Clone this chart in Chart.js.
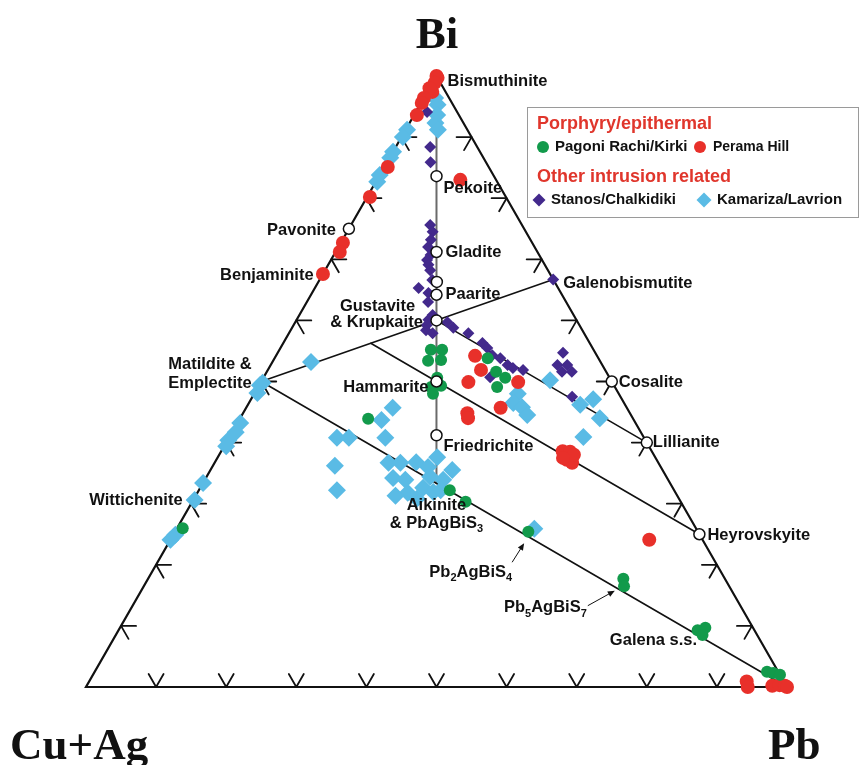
<!DOCTYPE html>
<html><head><meta charset="utf-8">
<script src="https://cdn.jsdelivr.net/npm/chart.js@4.4.1/dist/chart.umd.min.js"></script>
<style>html,body{margin:0;padding:0;background:#fff;overflow:hidden}canvas{display:block}</style>
</head><body>
<canvas id="c" width="861" height="765"></canvas>
<script>
// Compositions in atomic %: [Bi, Pb]; Cu+Ag = 100 - Bi - Pb
const pagoniRachi = [[55.2,21.6],[55.2,23.2],[53.4,22.1],[53.5,23.9],[50.6,24.8],[49.1,24.7],[49.3,26.0],[48.0,25.5],[53.8,30.4],[51.6,32.7],[50.6,34.5],[49.1,34.1],[43.9,18.3],[32.2,35.8],[30.3,39.0],[25.4,50.4],[17.7,67.8],[16.5,68.5],[9.3,82.6],[9.7,83.5],[8.5,83.7],[2.5,95.9],[2.3,96.9],[2.0,98.0],[26.0,0.8]];
const peramaHill = [[100,0],[99.7,0.3],[98.9,0.3],[97.4,0.7],[98.0,0],[96.4,0],[95.6,0.1],[93.6,0.4],[85.1,0.5],[80.2,0.4],[72.7,0.3],[71.2,0.6],[67.6,0],[83.0,11.9],[54.2,28.4],[51.9,30.4],[49.9,29.6],[49.9,36.7],[45.7,36.3],[44.8,32.0],[44.0,32.5],[38.6,48.7],[38.5,49.8],[37.2,50.0],[36.7,51.0],[38.0,50.6],[37.5,49.3],[24.1,68.3],[0.9,93.8],[0,94.4],[0.2,97.8],[0.3,98.8],[0.2,99.6],[0,100]];
const stanos = [[94.1,1.6],[88.4,4.9],[85.9,6.2],[75.6,11.3],[74.5,12.2],[73.2,12.6],[72.0,12.8],[70.7,13.8],[69.9,13.7],[69.1,14.3],[68.2,15.0],[66.6,16.1],[65.3,14.8],[64.5,16.6],[63.0,17.3],[60.9,19.0],[60.4,19.3],[60.1,18.8],[59.2,19.0],[58.4,19.3],[57.9,20.5],[59.7,21.7],[58.8,23.0],[57.9,25.6],[56.3,28.4],[55.5,29.5],[54.3,30.8],[53.8,32.2],[52.7,33.8],[52.2,34.8],[51.9,36.4],[50.7,32.3],[54.7,40.7],[52.7,40.9],[52.7,42.3],[51.6,43.5],[51.6,42.1],[47.5,45.6],[66.7,33.3]];
const kamariza = [[96.4,1.6],[95.3,2.5],[93.6,3.3],[92.3,3.7],[91.2,4.6],[91.2,0.2],[90.0,0.2],[87.6,0],[86.6,0.1],[83.8,0],[82.7,0.2],[49.8,0.3],[49.4,0.1],[48.1,0.4],[53.2,5.5],[43.2,0.4],[41.7,0.5],[40.4,0.1],[39.4,0.3],[33.4,0],[30.6,0.2],[24.9,0.3],[24.1,0],[45.7,20.9],[43.7,20.3],[40.8,22.3],[40.8,15.4],[40.8,17.1],[36.2,17.4],[32.2,19.7],[36.7,24.8],[36.7,26.5],[36.8,28.7],[34.2,26.7],[37.6,31.3],[35.5,34.5],[33.9,34.0],[34.4,31.9],[32.6,31.8],[31.9,33.6],[31.8,30.0],[31.3,28.5],[30.8,31.8],[32.2,34.5],[36.0,30.8],[33.9,28.6],[48.0,37.6],[46.5,37.7],[45.8,39.3],[44.5,40.7],[50.2,41.1],[46.2,47.4],[47.1,48.8],[44.0,51.3],[40.9,50.5],[25.9,51.0]];

// Reference mineral compositions [Bi, Pb] shown as open circles
const mineralNames = ['Pekoite','Gladite','Salzburgite','Paarite','Krupkaite','Hammarite','Friedrichite','Pavonite','Cosalite','Lillianite','Heyrovskyite'];
const mineralComp = [[83.6,8.2],[71.2,14.4],[66.3,16.9],[64.2,17.9],[60,20],[50,25],[41.2,29.4],[75,0],[50,50],[40,60],[25,75]];
// Tie lines between compositions [Bi, Pb]
const tieLines = [[[50,0],[66.7,33.3]],[[60,20],[40,60]],[[56.25,12.5],[25,75]],[[50,0],[0,100]]];
const centralLine = [[100,0],[33.33,33.33]];
const tickValues = [10,20,30,40,50,60,70,80,90];
const cornerTitles = ['Bi','Cu+Ag','Pb'];

// label layout (text, anchor composition, pixel offsets)
const labelLayout = [
  {t:[['Bismuthinite']], at:[100,0], dx:11, dy:5, a:'left'},
  {t:[['Pekoite']], at:[83.6,8.2], dx:7, dy:12, a:'left'},
  {t:[['Gladite']], at:[71.2,14.4], dx:9, dy:0, a:'left'},
  {t:[['Paarite']], at:[64.2,17.9], dx:9, dy:0, a:'left'},
  {t:[['Galenobismutite']], at:[66.7,33.3], dx:10, dy:4, a:'left'},
  {t:[['Gustavite']], at:[60,20], dx:-59, dy:-14, a:'center'},
  {t:[['& Krupkaite']], at:[60,20], dx:-60, dy:2, a:'center'},
  {t:[['Pavonite']], at:[75,0], dx:-13, dy:2, a:'right'},
  {t:[['Benjaminite']], at:[67.5,0], dx:-9, dy:1, a:'right'},
  {t:[['Matildite &']], at:[50,0], dx:-93, dy:-17, a:'left'},
  {t:[['Emplectite']], at:[50,0], dx:-93, dy:2, a:'left'},
  {t:[['Hammarite']], at:[50,25], dx:-8, dy:6, a:'right'},
  {t:[['Friedrichite']], at:[41.2,29.4], dx:7, dy:11, a:'left'},
  {t:[['Aikinite']], at:[33.33,33.33], dx:0, dy:22, a:'center'},
  {t:[['& PbAgBiS'],['3',1]], at:[33.33,33.33], dx:0, dy:40, a:'center'},
  {t:[['Cosalite']], at:[50,50], dx:7, dy:1, a:'left'},
  {t:[['Lillianite']], at:[40,60], dx:6, dy:0, a:'left'},
  {t:[['Heyrovskyite']], at:[25,75], dx:8, dy:1, a:'left'},
  {t:[['Wittichenite']], at:[25,0], dx:9, dy:-34, a:'right'},
  {t:[['Pb'],['2',1],['AgBiS'],['4',1]], at:[25,50], dx:-12, dy:38, a:'right'},
  {t:[['Pb'],['5',1],['AgBiS'],['7',1]], at:[14.29,71.43], dx:-50, dy:8, a:'right'},
  {t:[['Galena s.s.']], at:[0,100], dx:-90, dy:-47, a:'right'}
];
const arrowLayout = [
  {at:[25,50], head:[0,9], tail:[-12,28]},
  {at:[14.29,71.43], head:[-22,-9], tail:[-49,6]}
];

const COLORS = {green:'#129a4b', red:'#e8302a', purple:'#43298c', blue:'#5abbe5'};
const toXY = ([bi,pb]) => ({x: pb + bi/2, y: bi});

const LABEL_FONT = 'bold 16.5px "Liberation Sans", Arial, sans-serif';
const SUB_FONT = 'bold 11px "Liberation Sans", Arial, sans-serif';

function drawRich(ctx, parts, x, y, align){
  let w = 0;
  parts.forEach(p => { ctx.font = p[1] ? SUB_FONT : LABEL_FONT; w += ctx.measureText(p[0]).width; });
  let cx = align === 'center' ? x - w/2 : align === 'right' ? x - w : x;
  ctx.textAlign = 'left'; ctx.textBaseline = 'middle';
  parts.forEach(p => {
    ctx.font = p[1] ? SUB_FONT : LABEL_FONT;
    ctx.fillText(p[0], cx, p[1] ? y + 6 : y);
    cx += ctx.measureText(p[0]).width;
  });
}
function circle(ctx,x,y,r,fill,stroke,lw){
  ctx.beginPath(); ctx.arc(x,y,r,0,Math.PI*2);
  if(fill){ctx.fillStyle=fill;ctx.fill();}
  if(stroke){ctx.strokeStyle=stroke;ctx.lineWidth=lw;ctx.stroke();}
}
function diamond(ctx,x,y,r,fill){
  ctx.beginPath(); ctx.moveTo(x-r,y); ctx.lineTo(x,y-r); ctx.lineTo(x+r,y); ctx.lineTo(x,y+r); ctx.closePath();
  ctx.fillStyle=fill; ctx.fill();
}

const ternaryPlugin = {
  id:'ternary',
  beforeDatasetsDraw(chart){
    const ctx = chart.ctx, xs = chart.scales.x, ys = chart.scales.y;
    const P = (c) => { const v = toXY(c); return [xs.getPixelForValue(v.x), ys.getPixelForValue(v.y)]; };
    ctx.save();
    ctx.lineCap = 'round';
    const c0 = P(centralLine[0]), c1 = P(centralLine[1]);
    ctx.strokeStyle = '#6a6a6a'; ctx.lineWidth = 2;
    ctx.beginPath(); ctx.moveTo(c0[0],c0[1]); ctx.lineTo(c1[0],c1[1]); ctx.stroke();
    ctx.strokeStyle = '#111'; ctx.lineWidth = 1.6;
    tieLines.forEach(([a,b]) => { const p=P(a), q=P(b); ctx.beginPath(); ctx.moveTo(p[0],p[1]); ctx.lineTo(q[0],q[1]); ctx.stroke(); });
    const A = P([100,0]), L = P([0,0]), R = P([0,100]);
    ctx.lineWidth = 2.2; ctx.lineJoin = 'miter';
    ctx.beginPath(); ctx.moveTo(A[0],A[1]); ctx.lineTo(L[0],L[1]); ctx.lineTo(R[0]+4,R[1]); ctx.moveTo(R[0],R[1]); ctx.lineTo(A[0],A[1]); ctx.stroke();
    const norm = (v) => { const d = Math.hypot(v[0],v[1]); return [v[0]/d, v[1]/d]; };
    const uL = norm([A[0]-L[0], A[1]-L[1]]);
    const uR = norm([A[0]-R[0], A[1]-R[1]]);
    const len = 15;
    ctx.lineWidth = 1.8;
    const seg = (b, u) => { ctx.moveTo(b[0],b[1]); ctx.lineTo(b[0]+u[0]*len, b[1]+u[1]*len); };
    ctx.beginPath();
    tickValues.forEach(t => {
      const b = P([0,t]); seg(b,uL); seg(b,uR);
      const l = P([t,0]); seg(l,[1,0]); seg(l,[-uR[0],-uR[1]]);
      const r = P([t,100-t]); seg(r,[-1,0]); seg(r,[-uL[0],-uL[1]]);
    });
    ctx.stroke();
    ctx.restore();
  },
  afterDatasetsDraw(chart){
    const ctx = chart.ctx, xs = chart.scales.x, ys = chart.scales.y;
    const P = (c) => { const v = toXY(c); return [xs.getPixelForValue(v.x), ys.getPixelForValue(v.y)]; };
    ctx.save();
    mineralComp.forEach(c => { const p = P(c); circle(ctx,p[0],p[1],5.5,'#fff','#111',1.5); });
    labelLayout.forEach(l => { const p = P(l.at); ctx.fillStyle='#111'; drawRich(ctx, l.t, p[0]+l.dx, p[1]+l.dy, l.a); });
    ctx.strokeStyle = '#111'; ctx.fillStyle = '#111'; ctx.lineWidth = 1;
    arrowLayout.forEach(a => {
      const p = P(a.at); const hx = p[0]+a.head[0], hy = p[1]+a.head[1], tx = p[0]+a.tail[0], ty = p[1]+a.tail[1];
      const ang = Math.atan2(hy-ty, hx-tx);
      ctx.beginPath(); ctx.moveTo(tx,ty); ctx.lineTo(hx - 5*Math.cos(ang), hy - 5*Math.sin(ang)); ctx.stroke();
      ctx.beginPath(); ctx.moveTo(hx,hy);
      ctx.lineTo(hx - 7*Math.cos(ang) + 3*Math.sin(ang), hy - 7*Math.sin(ang) - 3*Math.cos(ang));
      ctx.lineTo(hx - 7*Math.cos(ang) - 3*Math.sin(ang), hy - 7*Math.sin(ang) + 3*Math.cos(ang));
      ctx.closePath(); ctx.fill();
    });
    ctx.fillStyle = '#111';
    ctx.font = 'bold 45px "Liberation Serif", "Times New Roman", serif';
    ctx.textBaseline = 'alphabetic';
    ctx.textAlign = 'center'; ctx.fillText(cornerTitles[0], 437, 48);
    ctx.textAlign = 'left'; ctx.fillText(cornerTitles[1], 10, 759);
    ctx.fillText(cornerTitles[2], 768, 759);
    ctx.strokeStyle = '#9a9a9a'; ctx.lineWidth = 1;
    ctx.strokeRect(527.5,107.5,331,110);
    ctx.textAlign = 'left'; ctx.textBaseline = 'middle';
    ctx.fillStyle = '#e0362c'; ctx.font = 'bold 18px "Liberation Sans", Arial, sans-serif';
    ctx.fillText('Porphyry/epithermal', 537, 124);
    ctx.fillText('Other intrusion related', 537, 177);
    circle(ctx,543,147,6,COLORS.green);
    circle(ctx,700,147,6,COLORS.red);
    diamond(ctx,539,200,6.5,COLORS.purple);
    diamond(ctx,704,200,7.5,COLORS.blue);
    ctx.fillStyle = '#111'; ctx.font = 'bold 15px "Liberation Sans", Arial, sans-serif';
    ctx.fillText(chart.data.datasets[3].label, 555, 147);
    ctx.fillText(chart.data.datasets[1].label, 551, 200);
    ctx.fillText(chart.data.datasets[0].label, 717, 200);
    ctx.font = 'bold 14px "Liberation Sans", Arial, sans-serif';
    ctx.fillText(chart.data.datasets[2].label, 713, 147);
    ctx.restore();
  }
};

const X_PER = 7.01, Y_PER = 6.11, X0 = 86, Y0 = 687;
const xMin = -X0 / X_PER, xMax = xMin + 861 / X_PER;
const yMax = Y0 / Y_PER, yMin = yMax - 765 / Y_PER;

new Chart(document.getElementById('c'), {
  type: 'scatter',
  data: { datasets: [
    {label:'Kamariza/Lavrion', data: kamariza.map(toXY), pointStyle:'rectRot', pointRadius:9, pointBackgroundColor:COLORS.blue, pointBorderWidth:0, order:4},
    {label:'Stanos/Chalkidiki', data: stanos.map(toXY), pointStyle:'rectRot', pointRadius:6, pointBackgroundColor:COLORS.purple, pointBorderWidth:0, order:3},
    {label:'Perama Hill', data: peramaHill.map(toXY), pointStyle:'circle', pointRadius:7, pointBackgroundColor:COLORS.red, pointBorderWidth:0, order:2},
    {label:'Pagoni Rachi/Kirki', data: pagoniRachi.map(toXY), pointStyle:'circle', pointRadius:6, pointBackgroundColor:COLORS.green, pointBorderWidth:0, order:1}
  ]},
  options: {
    responsive:false, animation:false, devicePixelRatio:1, events:[],
    layout:{padding:0, autoPadding:false},
    plugins:{legend:{display:false}, tooltip:{enabled:false}},
    scales:{
      x:{type:'linear', min:xMin, max:xMax, display:false},
      y:{type:'linear', min:yMin, max:yMax, display:false}
    }
  },
  plugins:[ternaryPlugin]
});
</script>
</body></html>
